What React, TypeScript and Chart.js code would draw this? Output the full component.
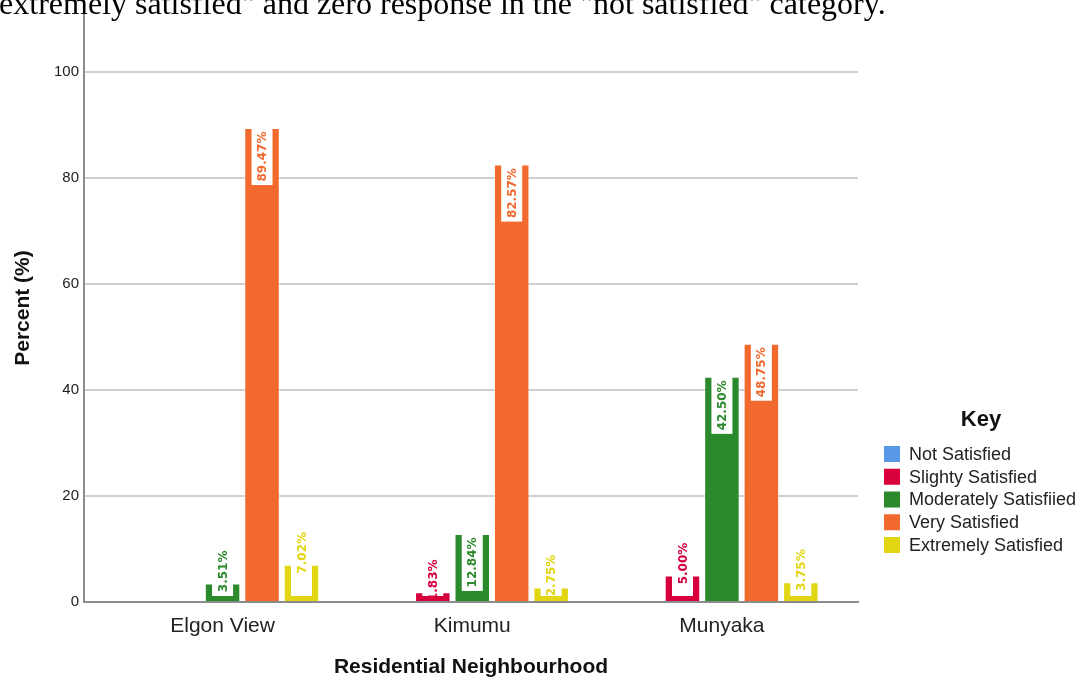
import { useEffect, useRef } from "react";
import { Chart, registerables } from "chart.js";

Chart.register(...registerables);

// ---- data ----
const neighbourhoods = ["Elgon View", "Kimumu", "Munyaka"];
const satisfactionLevels = [
  "Not Satisfied",
  "Slighty Satisfied",
  "Moderately Satisfiied",
  "Very Satisfied",
  "Extremely Satisfied",
];
const notSatisfied = [0, 0, 0];
const slightlySatisfied = [0, 1.83, 5.0];
const moderatelySatisfied = [3.51, 12.84, 42.5];
const verySatisfied = [89.47, 82.57, 48.75];
const extremelySatisfied = [7.02, 2.75, 3.75];
const yTickValues = [0, 20, 40, 60, 80, 100];
const seriesColors = ["#5799e6", "#d8003c", "#2b8a2b", "#f2692d", "#e2d512"];
const captionText =
  '"extremely satisfied" and zero response in the "not satisfied" category.';

const seriesValues = [
  notSatisfied,
  slightlySatisfied,
  moderatelySatisfied,
  verySatisfied,
  extremelySatisfied,
];

const FONT = "'Liberation Sans', Arial, sans-serif";

const barLabelPlugin = {
  id: "barLabels",
  afterDatasetsDraw(chart: any) {
    const ctx = chart.ctx as CanvasRenderingContext2D;
    ctx.save();
    ctx.font = "bold 12px 'DejaVu Sans', sans-serif";
    chart.data.datasets.forEach((ds: any, di: number) => {
      const meta = chart.getDatasetMeta(di);
      meta.data.forEach((bar: any, i: number) => {
        const v = seriesValues[di][i];
        if (!v) return;
        const { x, y, base } = bar.getProps(["x", "y", "base"], true);
        const text = v.toFixed(2) + "%";
        const tw = ctx.measureText(text).width;
        const boxH = tw + 7;
        const boxW = 21;
        let cy: number;
        ctx.fillStyle = "#ffffff";
        if (base - y >= boxH + 4) {
          ctx.fillRect(x - boxW / 2, y, boxW, boxH);
          cy = y + boxH / 2;
        } else {
          const h = base - 5 - y;
          if (h > 0) ctx.fillRect(x - boxW / 2, y, boxW, h);
          cy = y - 12;
        }
        ctx.save();
        ctx.translate(x, cy);
        ctx.rotate(-Math.PI / 2);
        ctx.fillStyle = ds.backgroundColor;
        ctx.textAlign = "center";
        ctx.textBaseline = "middle";
        ctx.fillText(text, 0, 1);
        ctx.restore();
      });
    });
    ctx.restore();
  },
};

const keyLegendPlugin = {
  id: "keyLegend",
  afterDraw(chart: any) {
    const ctx = chart.ctx as CanvasRenderingContext2D;
    const left = chart.chartArea.right + 26;
    ctx.save();
    ctx.fillStyle = "#111";
    ctx.font = `bold 22px ${FONT}`;
    ctx.textAlign = "center";
    ctx.textBaseline = "middle";
    ctx.fillText("Key", left + 97, 420);
    ctx.font = `18px ${FONT}`;
    ctx.textAlign = "left";
    chart.data.datasets.forEach((ds: any, i: number) => {
      const cy = 454 + i * 22.75;
      ctx.fillStyle = ds.backgroundColor;
      ctx.fillRect(left, cy - 8, 16, 16);
      ctx.fillStyle = "#222";
      ctx.fillText(ds.label, left + 25, cy + 1);
    });
    ctx.restore();
  },
};

export default function App() {
  const canvasRef = useRef<HTMLCanvasElement | null>(null);

  useEffect(() => {
    document.body.style.margin = "0";
    if (!canvasRef.current) return;
    const chart = new Chart(canvasRef.current, {
      type: "bar",
      data: {
        datasets: satisfactionLevels.map((label, di) => ({
          label,
          data: seriesValues[di].map((v, i) => ({ x: i, y: v })),
          backgroundColor: seriesColors[di],
          borderColor: "rgba(255,255,255,0.45)",
          borderWidth: (c: any) => (c.raw && c.raw.y ? 1 : 0),
          categoryPercentage: 0.79,
          barPercentage: 0.9,
        })),
      },
      options: {
        animation: false,
        responsive: true,
        maintainAspectRatio: false,
        layout: { padding: { top: 13.7, right: 224, left: 0, bottom: 0 } },
        plugins: { legend: { display: false }, tooltip: { enabled: false } },
        scales: {
          x: {
            type: "linear",
            offset: false,
            min: -0.555,
            max: 2.545,
            afterBuildTicks: (s: any) => {
              s.ticks = neighbourhoods.map((_, i) => ({ value: i }));
            },
            afterFit: (s: any) => {
              s.height = 75;
            },
            grid: { display: false, drawTicks: false, offset: false },
            border: { color: "#8c8c8c", width: 2 },
            ticks: {
              callback: (v: any) => neighbourhoods[v] ?? "",
              font: { size: 21, family: FONT },
              color: "#222",
              padding: 12,
              autoSkip: false,
              maxRotation: 0,
            },
            title: {
              display: true,
              text: "Residential Neighbourhood",
              font: { size: 21, weight: "bold", family: FONT },
              color: "#111",
              padding: { top: 0, bottom: -3 },
            },
          },
          y: {
            min: 0,
            max: 111,
            afterBuildTicks: (s: any) => {
              s.ticks = yTickValues.map((v) => ({ value: v }));
            },
            afterFit: (s: any) => {
              s.width = 84;
            },
            grid: { color: "#cfcfcf", lineWidth: 2, drawTicks: false },
            border: { color: "#8c8c8c", width: 2 },
            ticks: {
              font: { size: 15, family: FONT },
              color: "#222",
              padding: 5,
            },
            title: {
              display: true,
              text: "Percent (%)",
              font: { size: 21, weight: "bold", family: FONT },
              color: "#111",
              padding: { top: 11, bottom: 0 },
            },
          },
        },
      } as any,
      plugins: [barLabelPlugin, keyLegendPlugin],
    });
    return () => chart.destroy();
  }, []);

  return (
    <div
      style={{
        position: "absolute",
        left: 0,
        top: 0,
        width: 1082,
        height: 677,
        overflow: "hidden",
        background: "#ffffff",
      }}
    >
      <canvas ref={canvasRef} />
      <div
        style={{
          position: "absolute",
          left: -14,
          top: -13,
          fontFamily: "'Liberation Serif', 'Times New Roman', serif",
          fontSize: 32,
          lineHeight: "32px",
          whiteSpace: "nowrap",
          color: "#000",
        }}
      >
        {captionText}
      </div>
    </div>
  );
}
